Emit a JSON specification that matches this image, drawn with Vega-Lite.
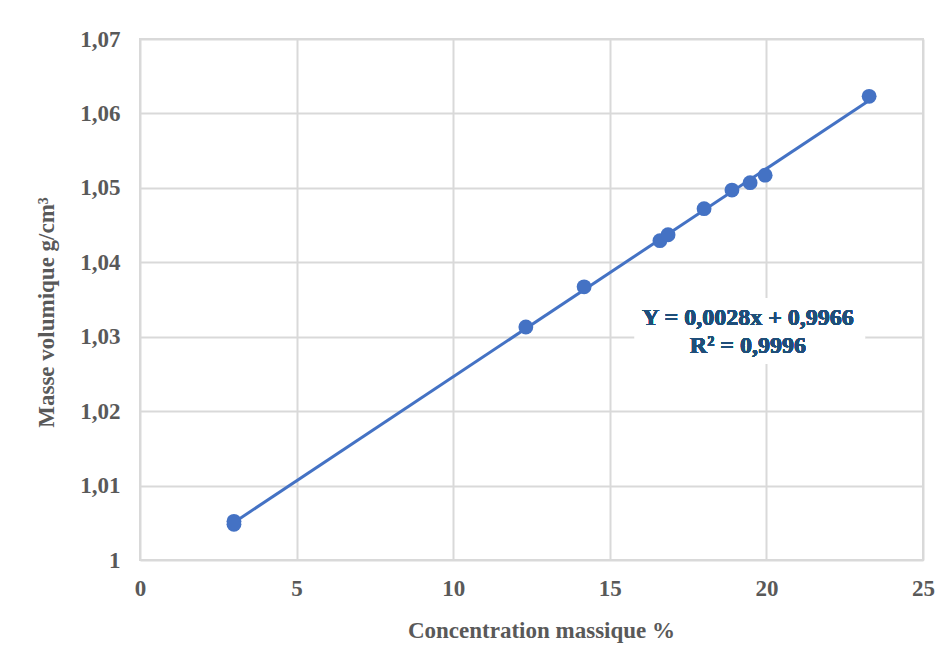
{
  "$schema": "https://vega.github.io/schema/vega-lite/v6.json",
  "width": 783,
  "height": 521,
  "autosize": {"type": "none"},
  "padding": {"left": 140, "top": 39, "right": 28, "bottom": 103},
  "background": "white",
  "data": {"values": [
    {"c": 3.0, "m": 1.0052},
    {"c": 3.0, "m": 1.0048},
    {"c": 12.32, "m": 1.0313},
    {"c": 14.18, "m": 1.0367},
    {"c": 16.60, "m": 1.0429},
    {"c": 16.86, "m": 1.0437},
    {"c": 18.01, "m": 1.0472},
    {"c": 18.90, "m": 1.0497},
    {"c": 19.48, "m": 1.0507},
    {"c": 19.96, "m": 1.0517},
    {"c": 23.28, "m": 1.0623}
  ]},
  "encoding": {
    "x": {"field": "c", "type": "quantitative",
      "scale": {"domain": [0, 25], "nice": false, "zero": false},
      "axis": {"title": "Concentration  massique %", "values": [0, 5, 10, 15, 20, 25], "format": "d",
        "titleX": 401, "titleY": 70, "titleBaseline": "middle", "labelPadding": 17}},
    "y": {"field": "m", "type": "quantitative",
      "scale": {"domain": [1, 1.07], "nice": false, "zero": false},
      "axis": {"title": "Masse volumique g/cm³", "values": [1, 1.01, 1.02, 1.03, 1.04, 1.05, 1.06, 1.07], "format": ".2~f",
        "titleX": -94, "titleY": 273, "titleBaseline": "middle", "titleAngle": -90, "titleAlign": "center", "labelPadding": 20}}
  },
  "layer": [
    {
      "mark": {"type": "rect", "fill": "white"},
      "encoding": {
        "x": {"datum": 15.8},
        "x2": {"datum": 23.15},
        "y": {"datum": 1.0264},
        "y2": {"datum": 1.0352}
      }
    },
    {
      "transform": [{"regression": "m", "on": "c"}],
      "mark": {"type": "line", "color": "#4472C4", "strokeWidth": 3}
    },
    {
      "mark": {"type": "circle", "color": "#4472C4", "size": 220, "opacity": 1}
    },
    {
      "mark": {"type": "text", "font": "Liberation Serif", "fontWeight": "bold", "fontSize": 24, "color": "#1F4E79", "align": "center", "baseline": "middle"},
      "encoding": {
        "x": {"datum": 19.41},
        "y": {"datum": 1.0325},
        "text": {"value": "Y = 0,0028x + 0,9966"}
      }
    },
    {
      "mark": {"type": "text", "font": "Liberation Serif", "fontWeight": "bold", "fontSize": 24, "color": "#1F4E79", "align": "center", "baseline": "middle"},
      "encoding": {
        "x": {"datum": 19.41},
        "y": {"datum": 1.02875},
        "text": {"value": "R² = 0,9996"}
      }
    }
  ],
  "config": {
    "locale": {"number": {"decimal": ",", "thousands": " ", "grouping": [3], "currency": ["", " €"]}},
    "view": {"stroke": "#d9d9d9", "strokeWidth": 2},
    "axis": {
      "grid": true, "gridColor": "#d9d9d9", "gridWidth": 2,
      "domain": false, "ticks": false, "labelFlush": false,
      "labelFont": "Liberation Serif", "labelFontWeight": "bold", "labelFontSize": 23, "labelColor": "#595959",
      "titleFont": "Liberation Serif", "titleFontWeight": "bold", "titleFontSize": 23, "titleColor": "#595959"
    }
  }
}
